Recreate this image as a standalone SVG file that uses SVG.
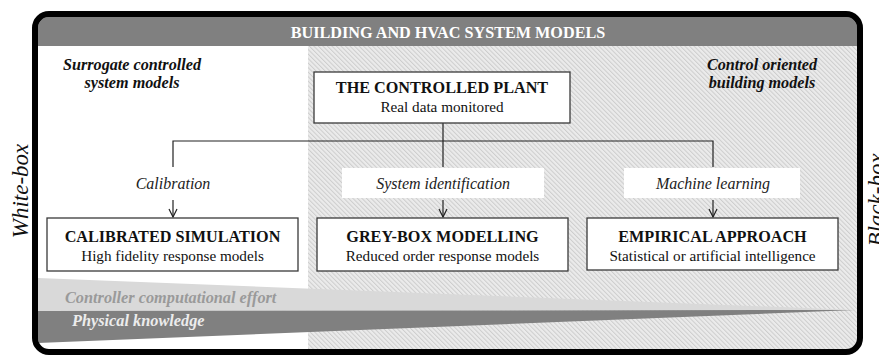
<svg xmlns="http://www.w3.org/2000/svg" width="879" height="356" viewBox="0 0 879 356">
<style>
text{font-family:"Liberation Serif","Times New Roman","DejaVu Serif",serif;}
.box{fill:#fff;stroke:#3a3a3a;stroke-width:1.3;}
.t{font-size:16.2px;font-weight:bold;fill:#111;text-anchor:middle;}
.s{font-size:15.2px;fill:#111;text-anchor:middle;}
.lab{font-size:16px;font-style:italic;fill:#222;text-anchor:middle;}
.con{fill:none;stroke:#222;stroke-width:1.2;}
.side{font-size:16.2px;font-weight:bold;font-style:italic;fill:#111;text-anchor:middle;}
.wb{font-size:23px;font-style:italic;fill:#111;text-anchor:middle;}
</style>
<defs>
<pattern id="hatch" width="3.2" height="3.2" patternUnits="userSpaceOnUse" patternTransform="rotate(-45)">
<rect width="3.2" height="3.2" fill="#ebebeb"/>
<line x1="0.5" y1="0" x2="0.5" y2="3.2" stroke="#cdcdcd" stroke-width="1"/>
</pattern>
<clipPath id="inner"><rect x="38" y="17" width="819" height="332" rx="11"/></clipPath>
<marker id="arr" viewBox="0 0 10 10" refX="9" refY="5" markerWidth="10" markerHeight="10" markerUnits="userSpaceOnUse" orient="auto">
<path d="M1,1 L9,5 L1,9" fill="none" stroke="#222" stroke-width="1.2"/>
</marker>
</defs>

<g id="frame">
<g clip-path="url(#inner)">
<rect x="38" y="17" width="819" height="332" fill="#fff"/>
<rect x="308" y="46" width="549" height="303" fill="url(#hatch)"/>
<rect x="38" y="17" width="819" height="29" fill="#808080"/>
<polygon points="38,278 855,310 38,312" fill="#d9d9d9"/>
<polygon points="38,311 855,310 38,343" fill="#808080"/>
</g>
<rect x="35" y="14" width="825" height="338" rx="14" fill="none" stroke="#000" stroke-width="6"/>
<text x="448" y="37.5" font-size="16.2" font-weight="bold" fill="#fff" text-anchor="middle">BUILDING AND HVAC SYSTEM MODELS</text>
</g>

<g id="axis-labels">
<text class="wb" transform="translate(28,191) rotate(-90)">White-box</text>
<text class="wb" transform="translate(884,200) rotate(-90)">Black-box</text>
<text class="side" x="132" y="70">Surrogate controlled</text>
<text class="side" x="132" y="88">system models</text>
<text class="side" x="762" y="70">Control oriented</text>
<text class="side" x="762" y="88">building models</text>
</g>

<g id="gradients-text">
<text x="65" y="303" font-size="16.3" font-weight="bold" font-style="italic" fill="#9a9a9a">Controller computational effort</text>
<text x="72" y="326" font-size="16.3" font-weight="bold" font-style="italic" fill="#ececec">Physical knowledge</text>
</g>

<g id="connectors">
<path class="con" d="M443,123 V141 M173,167 V141 H713 V167 M443,141 V167"/>
<rect x="342" y="168" width="202" height="30" fill="#fff"/>
<rect x="624" y="168" width="176" height="30" fill="#fff"/>
<line class="con" x1="173" y1="200" x2="173" y2="217" marker-end="url(#arr)"/>
<line class="con" x1="443" y1="200" x2="443" y2="217" marker-end="url(#arr)"/>
<line class="con" x1="713" y1="200" x2="713" y2="217" marker-end="url(#arr)"/>
<text class="lab" x="173" y="189">Calibration</text>
<text class="lab" x="443" y="189">System identification</text>
<text class="lab" x="713" y="189">Machine learning</text>
</g>

<g id="plant">
<rect class="box" x="314" y="72" width="256" height="51"/>
<text class="t" x="442" y="93">THE CONTROLLED PLANT</text>
<text class="s" x="442" y="112">Real data monitored</text>
</g>

<g id="calibrated">
<rect class="box" x="47" y="218" width="251" height="53"/>
<text class="t" x="172.5" y="242">CALIBRATED SIMULATION</text>
<text class="s" x="172.5" y="261">High fidelity response models</text>
</g>

<g id="greybox">
<rect class="box" x="317" y="218" width="251" height="53"/>
<text class="t" x="442.5" y="242">GREY-BOX MODELLING</text>
<text class="s" x="442.5" y="261">Reduced order response models</text>
</g>

<g id="empirical">
<rect class="box" x="587" y="218" width="251" height="52"/>
<text class="t" x="712.5" y="242">EMPIRICAL APPROACH</text>
<text class="s" x="712.5" y="261">Statistical or artificial intelligence</text>
</g>
</svg>
